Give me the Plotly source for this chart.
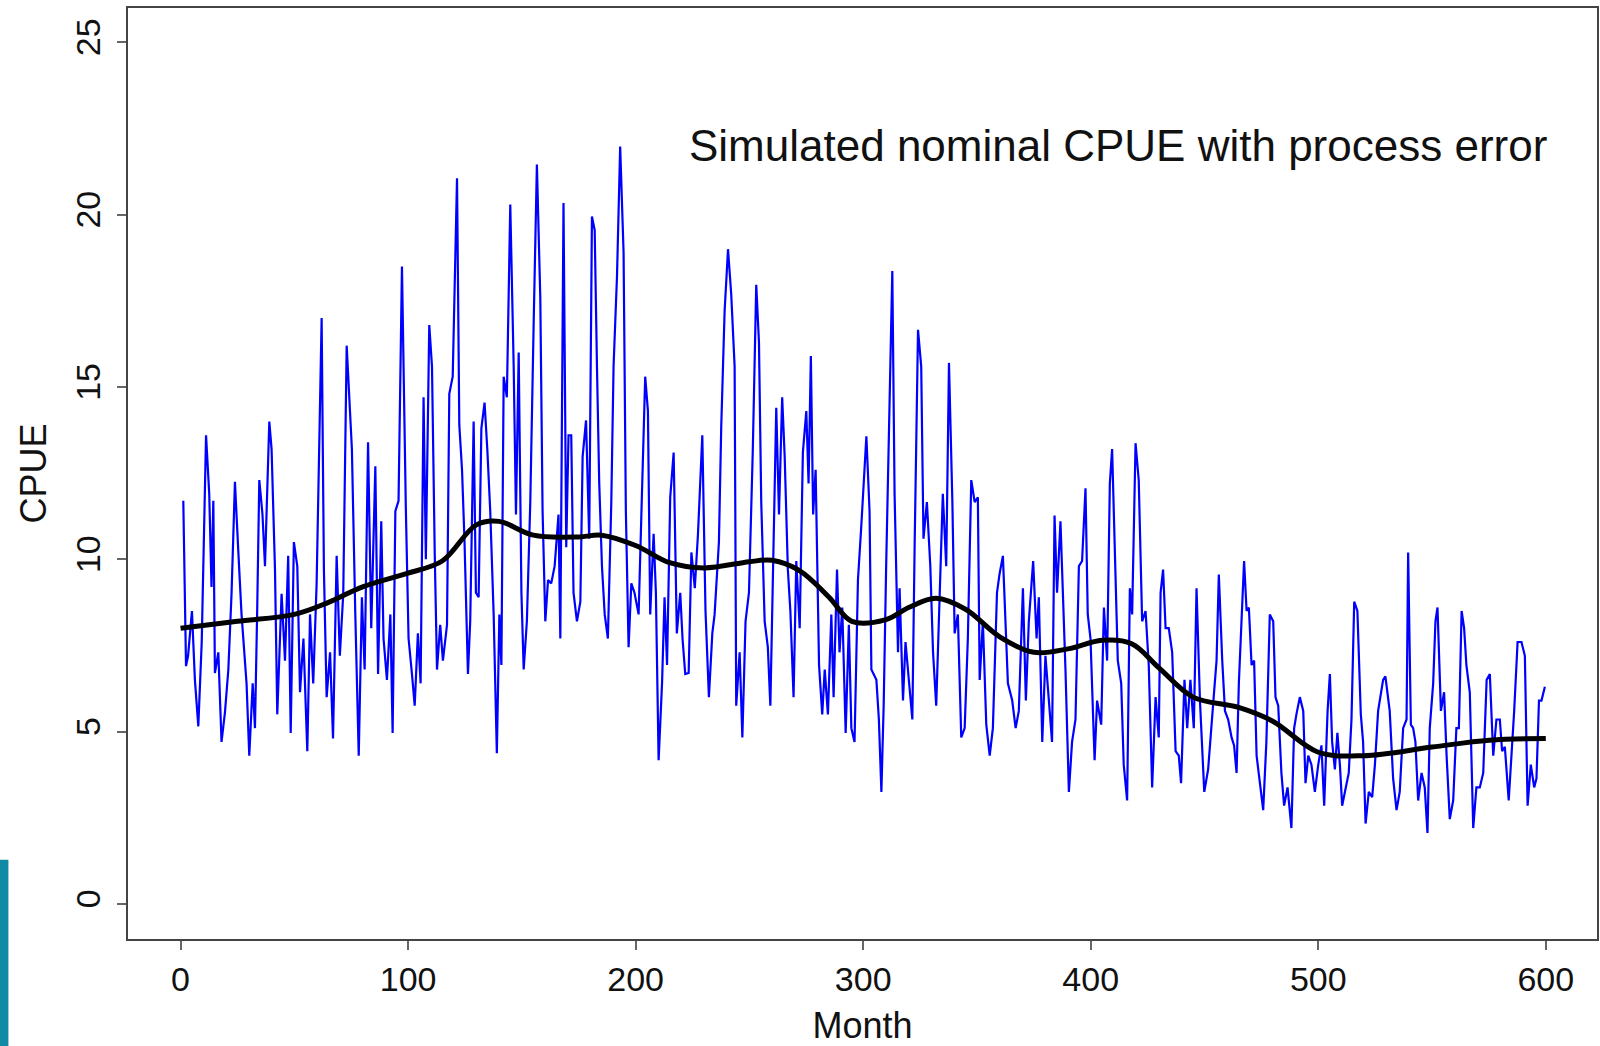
import plotly.graph_objects as go

# Simulated monthly CPUE (blue)
months = [1.2, 2.4, 3.3, 5.0, 6.3, 7.8, 9.3, 11.2, 12.6, 13.6, 14.4, 15.1, 16.6, 18.0, 19.5, 21.0, 22.4, 23.9, 25.4, 26.8,
          29.0, 30.2, 31.7, 32.7, 33.7, 34.6, 36.0, 37.1, 39.0, 40.0, 41.5, 42.5, 44.4, 45.9, 47.3, 48.4, 49.8, 51.3, 52.5, 54.0,
          55.7, 56.9, 58.3, 59.8, 62.0, 63.0, 64.2, 65.7, 67.0, 68.6, 70.0, 71.5, 73.0, 75.3, 76.8, 78.3, 79.7, 80.9, 82.4, 83.8,
          85.6, 86.8, 88.2, 89.2, 90.7, 92.2, 93.2, 94.4, 95.8, 97.3, 99.0, 100.2, 101.7, 102.9, 104.3, 105.5, 106.8, 107.8, 109.3, 110.5,
          111.7, 112.7, 114.1, 115.3, 117.1, 118.1, 119.6, 121.5, 122.5, 123.7, 124.8, 126.3, 127.3, 128.8, 129.8, 131.0, 132.2, 133.6, 134.8, 136.1,
          137.6, 139.0, 140.1, 141.0, 142.0, 143.4, 144.9, 146.4, 147.4, 148.6, 149.8, 150.8, 152.2, 153.7, 155.2, 156.6, 158.1, 159.1, 160.3, 161.5,
          162.9, 164.4, 166.1, 166.9, 168.3, 169.5, 170.5, 171.7, 172.7, 174.2, 175.7, 176.7, 178.2, 179.6, 180.8, 182.0, 183.0, 184.0, 185.2, 186.4,
          187.8, 189.3, 190.3, 191.8, 193.2, 194.7, 195.7, 196.9, 198.1, 199.5, 201.3, 202.8, 204.2, 205.4, 206.4, 207.9, 208.9, 210.1, 211.6, 212.7,
          213.8, 215.2, 216.7, 218.1, 219.6, 220.6, 221.8, 223.3, 224.5, 226.0, 227.4, 229.3, 230.7, 232.2, 233.7, 234.7, 236.6, 237.6, 239.1, 240.6,
          242.0, 243.5, 244.2, 245.7, 246.9, 248.3, 249.8, 251.5, 253.0, 254.2, 255.2, 256.7, 258.1, 259.2, 260.3, 261.8, 263.0, 264.4, 265.5, 266.9,
          268.0, 269.4, 270.6, 272.1, 273.5, 275.0, 276.0, 277.0, 278.0, 279.1, 280.6, 282.0, 283.1, 284.5, 286.0, 287.0, 288.5, 289.6, 290.8, 292.3,
          293.7, 294.8, 296.2, 297.7, 299.2, 301.4, 302.8, 303.6, 305.8, 306.9, 308.0, 309.0, 310.1, 311.6, 312.8, 313.8, 315.3, 316.0, 317.5, 318.6,
          320.1, 321.6, 322.6, 324.1, 325.5, 326.5, 328.0, 329.5, 330.7, 332.1, 333.9, 335.0, 336.5, 337.7, 339.2, 340.2, 341.6, 343.1, 344.6, 346.0,
          347.5, 349.0, 350.4, 351.2, 352.6, 354.1, 355.6, 357.0, 358.8, 359.9, 361.4, 362.6, 363.6, 365.5, 367.0, 368.4, 370.2, 371.5, 372.8, 374.7,
          376.2, 377.2, 378.7, 380.1, 381.6, 383.0, 384.1, 385.2, 386.7, 387.9, 388.9, 390.4, 391.8, 393.3, 394.8, 396.2, 397.7, 398.7, 399.9, 401.7,
          402.8, 404.6, 405.8, 407.2, 408.4, 409.4, 410.9, 411.9, 413.4, 414.5, 416.0, 417.2, 418.2, 419.7, 421.1, 422.6, 424.1, 425.5, 427.0, 428.5,
          429.9, 430.7, 431.8, 432.9, 434.3, 435.8, 437.3, 438.7, 439.7, 441.2, 442.4, 443.8, 445.3, 446.5, 448.0, 449.9, 451.6, 452.8, 454.2, 455.3,
          456.3, 457.8, 459.0, 460.4, 461.9, 463.0, 464.1, 465.1, 466.3, 467.4, 468.5, 469.5, 470.7, 471.8, 472.9, 474.3, 475.8, 477.2, 478.7, 480.2,
          481.2, 482.4, 483.8, 485.0, 486.5, 488.2, 489.4, 490.4, 491.9, 493.4, 494.4, 495.6, 497.0, 498.5, 500.0, 501.4, 502.6, 504.1, 505.1, 506.1,
          507.3, 508.4, 509.5, 510.5, 512.0, 513.4, 514.6, 515.8, 517.2, 518.7, 519.7, 520.8, 522.2, 523.7, 524.9, 526.3, 528.5, 529.5, 531.4, 532.9,
          534.4, 535.8, 537.3, 538.8, 539.5, 540.7, 541.7, 542.7, 543.9, 545.4, 546.8, 548.0, 549.0, 550.5, 551.5, 552.4, 553.9, 555.3, 556.4, 557.8,
          559.3, 560.7, 561.8, 563.0, 564.1, 565.1, 566.6, 568.1, 569.5, 571.0, 572.5, 574.0, 575.4, 576.9, 578.3, 579.8, 580.8, 582.0, 583.7, 585.0,
          586.1, 587.6, 589.3, 590.8, 592.0, 593.4, 594.9, 595.9, 597.0, 598.1, 599.6]
cpue = [11.7, 6.9, 7.2, 8.5, 6.5, 5.15, 7.6, 13.6, 11.9, 9.2, 11.7, 6.7, 7.3, 4.7, 5.55, 6.8, 9.0, 12.25, 10.2, 8.4,
        6.4, 4.3, 6.4, 5.1, 8.6, 12.3, 11.3, 9.8, 14.0, 13.2, 9.7, 5.5, 9.0, 7.06, 10.1, 4.96, 10.5, 9.8, 6.14, 7.7,
        4.43, 8.4, 6.4, 9.3, 17.0, 9.7, 6.0, 7.3, 4.8, 10.1, 7.2, 9.0, 16.2, 13.2, 8.4, 4.3, 8.9, 6.8, 13.4, 8.0,
        12.7, 6.67, 11.1, 7.7, 6.5, 8.4, 4.96, 11.4, 11.7, 18.5, 11.5, 7.7, 6.67, 5.75, 7.85, 6.4, 14.7, 10.0, 16.8, 15.6,
        10.2, 6.8, 8.1, 7.06, 8.1, 14.8, 15.3, 21.06, 13.9, 12.6, 10.5, 6.67, 8.2, 14.0, 9.03, 8.9, 13.8, 14.55, 13.2, 11.4,
        8.4, 4.37, 8.4, 6.93, 15.3, 14.7, 20.3, 15.6, 11.3, 16.0, 9.03, 6.8, 8.2, 11.66, 16.9, 21.46, 17.58, 11.4, 8.2, 9.4,
        9.3, 9.8, 11.3, 7.7, 20.34, 10.35, 13.6, 13.6, 9.03, 8.2, 8.77, 12.98, 14.03, 10.6, 19.95, 19.55, 15.6, 12.2, 9.8, 8.4,
        7.7, 11.66, 15.6, 18.2, 21.98, 18.9, 11.4, 7.45, 9.3, 9.03, 8.4, 11.9, 15.3, 14.3, 8.4, 10.74, 9.03, 4.17, 6.4, 8.9,
        6.93, 11.8, 13.1, 7.85, 9.03, 7.7, 6.67, 6.7, 10.2, 9.16, 10.74, 13.6, 8.5, 6.0, 7.85, 8.4, 10.5, 13.8, 17.2, 19.0,
        17.7, 15.6, 5.75, 7.3, 4.83, 8.2, 9.03, 13.2, 17.97, 16.3, 11.66, 8.2, 7.45, 5.75, 9.0, 14.4, 11.3, 14.7, 12.98, 9.7,
        8.5, 6.0, 9.95, 8.0, 13.1, 14.3, 12.2, 15.9, 11.3, 12.6, 6.93, 5.5, 6.8, 5.5, 8.4, 6.0, 9.7, 7.3, 8.6, 4.96,
        8.1, 5.1, 4.7, 9.4, 11.0, 13.57, 11.4, 6.8, 6.5, 5.35, 3.25, 5.75, 9.8, 14.7, 18.37, 11.9, 7.3, 9.16, 5.9, 7.6,
        6.4, 5.35, 10.35, 16.66, 15.6, 10.6, 11.66, 9.8, 7.3, 5.75, 9.56, 11.9, 9.8, 15.7, 11.66, 7.85, 8.4, 4.83, 5.1, 7.7,
        12.3, 11.66, 11.8, 6.5, 8.2, 5.2, 4.3, 5.1, 9.03, 9.56, 10.1, 8.2, 6.4, 5.9, 5.1, 5.6, 9.16, 5.9, 8.2, 9.95,
        7.7, 8.9, 4.7, 7.2, 5.75, 4.7, 11.27, 9.03, 11.1, 9.03, 6.8, 3.25, 4.7, 5.35, 9.8, 9.95, 12.06, 8.4, 7.7, 4.17,
        5.9, 5.2, 8.6, 7.06, 12.2, 13.2, 9.7, 7.06, 6.4, 4.04, 3.0, 9.16, 8.4, 13.37, 12.3, 8.2, 8.5, 6.93, 3.38, 6.0,
        4.83, 9.03, 9.7, 8.0, 8.0, 7.3, 4.43, 4.3, 3.5, 6.5, 5.1, 6.5, 5.1, 9.16, 5.9, 3.25, 3.9, 4.83, 6.14, 7.06,
        9.56, 7.06, 5.6, 5.35, 4.83, 4.6, 3.8, 6.4, 8.4, 9.95, 8.5, 8.6, 6.93, 7.06, 4.3, 3.5, 2.72, 4.7, 8.4, 8.2,
        6.0, 5.75, 3.8, 2.85, 3.38, 2.2, 5.1, 5.5, 6.0, 5.6, 3.5, 4.3, 4.04, 3.25, 4.04, 4.6, 2.85, 5.6, 6.67, 4.7,
        3.9, 4.96, 4.04, 2.85, 3.38, 3.8, 5.35, 8.77, 8.5, 5.5, 4.7, 2.33, 3.25, 3.1, 4.04, 5.6, 6.5, 6.6, 5.6, 3.64,
        2.72, 3.25, 5.1, 5.35, 10.2, 5.2, 5.1, 4.7, 3.0, 3.8, 3.38, 2.06, 5.1, 6.4, 8.2, 8.6, 5.6, 6.14, 4.3, 2.46,
        3.0, 5.1, 5.1, 8.5, 8.0, 6.93, 6.14, 2.2, 3.38, 3.38, 3.8, 6.5, 6.67, 4.3, 5.35, 5.35, 4.43, 4.56, 3.0, 4.3,
        5.6, 7.6, 7.6, 7.2, 2.85, 4.04, 3.38, 3.64, 5.9, 5.9, 6.3]

# Smoothed trend (black)
trend_months = [0, 25, 50, 65, 80, 100, 115, 130, 140, 155, 175, 185, 200, 215, 230, 250, 260, 272, 285, 295,
                310, 320, 332, 345, 360, 375, 390, 405, 418, 430, 445, 465, 480, 500, 520, 550, 575, 600]
trend_cpue = [8.0, 8.2, 8.4, 8.75, 9.2, 9.6, 9.95, 11.0, 11.1, 10.7, 10.65, 10.7, 10.4, 9.9, 9.75, 9.93, 9.97, 9.67, 8.9, 8.2,
              8.25, 8.6, 8.87, 8.55, 7.75, 7.3, 7.4, 7.65, 7.55, 6.85, 6.0, 5.7, 5.3, 4.4, 4.3, 4.55, 4.75, 4.8]

x_ticks = [0, 100, 200, 300, 400, 500, 600]
y_ticks = [0, 5, 10, 15, 20, 25]

FONT = "Liberation Sans, Arial, sans-serif"

fig = go.Figure()
fig.add_trace(go.Scatter(x=months, y=cpue, mode="lines",
                         line=dict(color="#0000ff", width=2.2), showlegend=False))
fig.add_trace(go.Scatter(x=trend_months, y=trend_cpue, mode="lines",
                         line=dict(color="#000000", width=5, shape="spline"), showlegend=False))

fig.add_annotation(x=601.4, y=22.0, xref="x", yref="y", text="Simulated nominal CPUE with process error",
                   showarrow=False, xanchor="right", yanchor="middle",
                   font=dict(family=FONT, size=44, color="#111111"))

# teal slide decoration at bottom-left
fig.add_shape(type="rect", xref="paper", yref="paper", x0=-0.0875, x1=-0.0814, y0=-0.12, y1=0.085,
              fillcolor="#138aa5", line=dict(width=0), layer="above")

fig.update_layout(
    width=1600, height=1046,
    margin=dict(l=128, r=3, t=8, b=107),
    paper_bgcolor="white", plot_bgcolor="white",
    font=dict(family=FONT, size=34, color="#111111"),
    xaxis=dict(range=[-23.1, 622.5], tickvals=x_ticks, ticktext=[str(v) for v in x_ticks],
               ticks="outside", ticklen=9, tickwidth=2, tickcolor="#666666",
               showline=True, mirror=True, linecolor="#444444", linewidth=2,
               showgrid=False, zeroline=False, ticklabelstandoff=0,
               title=dict(text="Month", font=dict(size=36), standoff=30), automargin=False),
    yaxis=dict(range=[-1.02, 26.0], tickvals=y_ticks, ticktext=[str(v) for v in y_ticks],
               ticks="outside", ticklen=9, tickwidth=2, tickcolor="#666666", tickangle=-90,
               showline=True, mirror=True, linecolor="#444444", linewidth=2,
               showgrid=False, zeroline=False, ticklabelstandoff=3,
               title=dict(text="CPUE", font=dict(size=36), standoff=12), automargin=False),
)

fig.write_html("out.html", config={"displayModeBar": False},
               post_script="document.body.style.margin='0';document.body.style.overflow='hidden';")
